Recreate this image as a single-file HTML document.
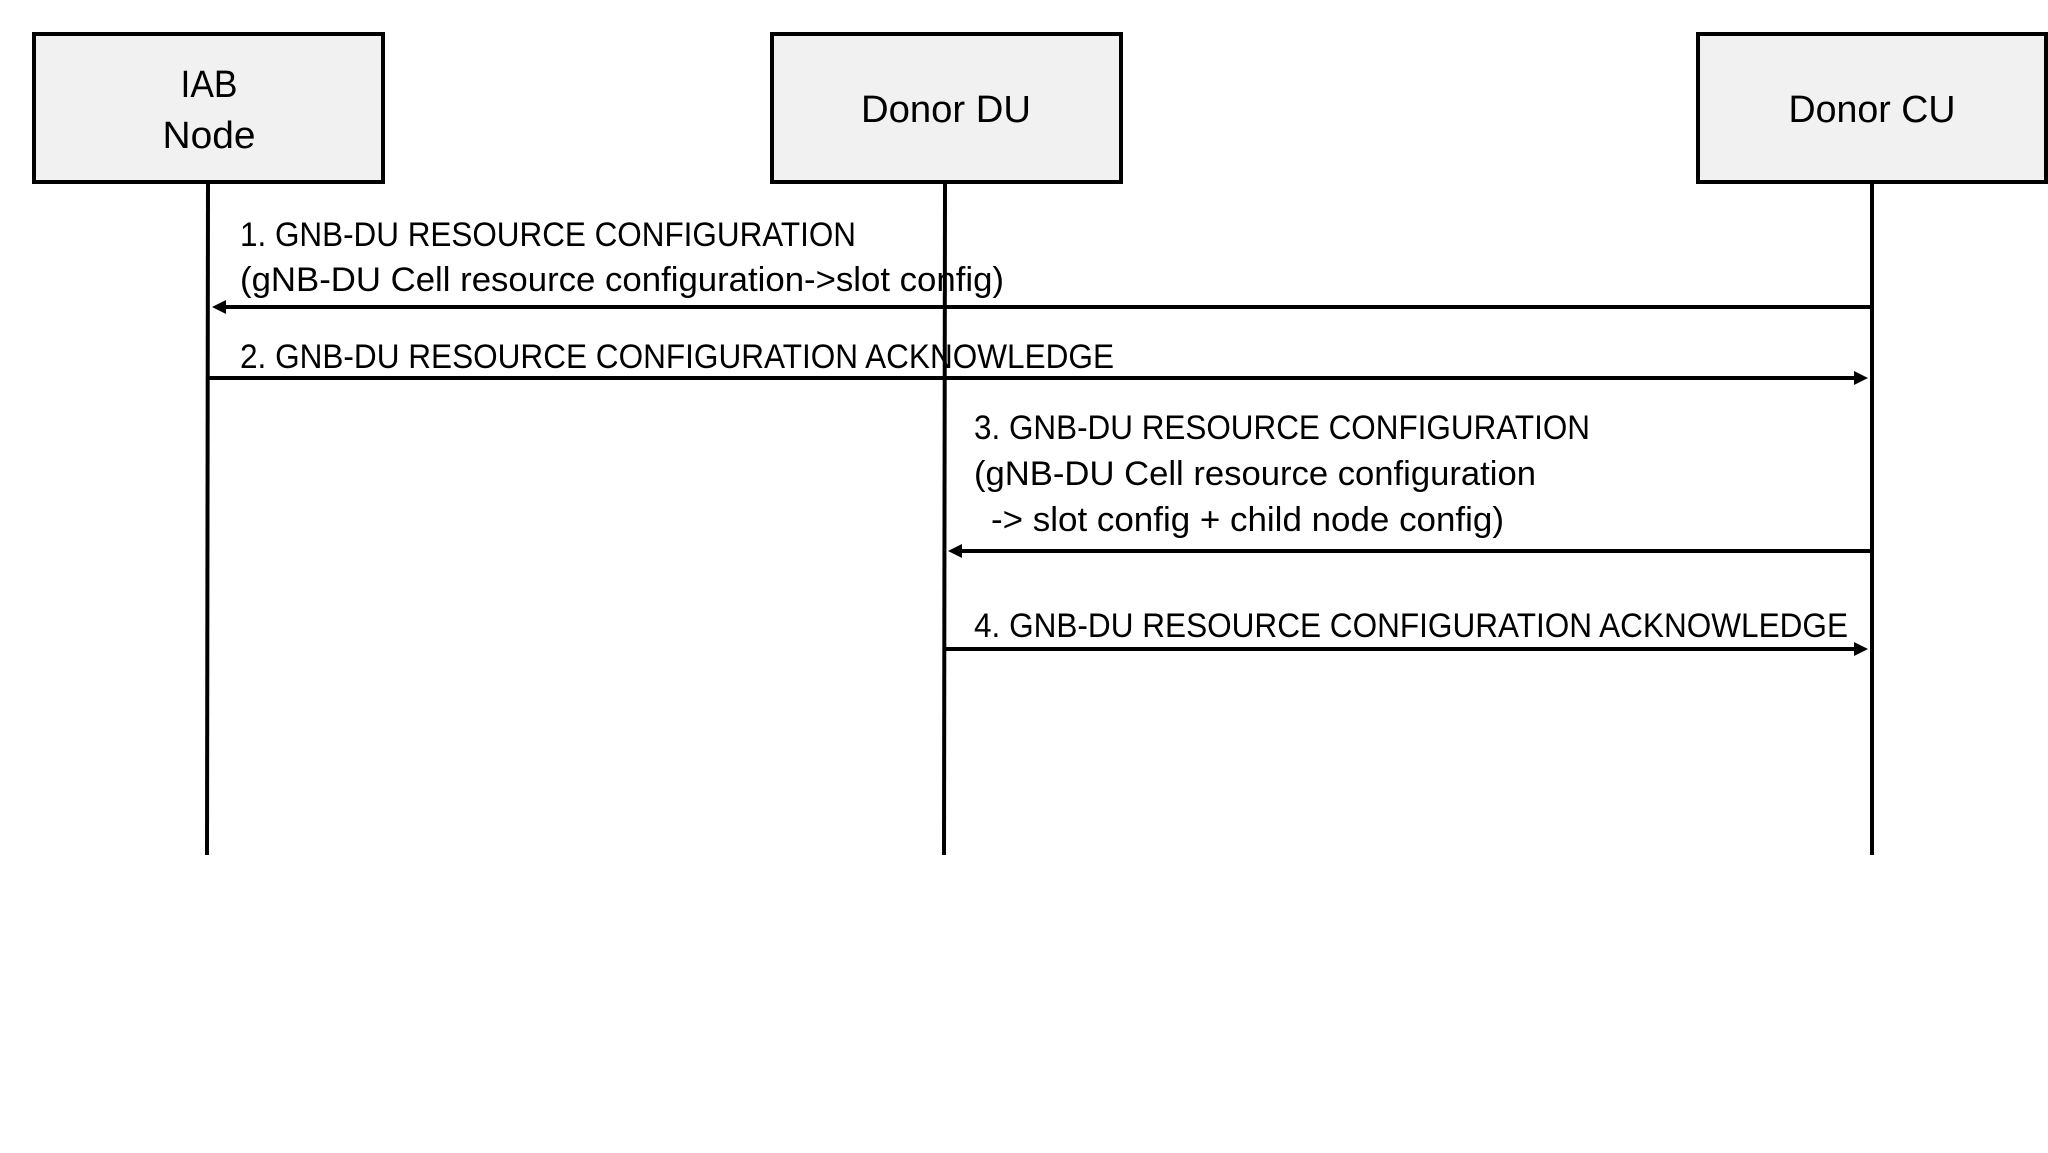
<!DOCTYPE html>
<html><head><meta charset="utf-8"><style>html,body{margin:0;padding:0;background:#fff}svg{display:block}</style></head>
<body>
<svg width="2048" height="1153" viewBox="0 0 2048 1153" xmlns="http://www.w3.org/2000/svg" font-family="'Liberation Sans', sans-serif" fill="#000">
<g stroke="#000" stroke-width="4" fill="#f1f1f1">
<rect x="34" y="34" width="349" height="148"/>
<rect x="772" y="34" width="349" height="148"/>
<rect x="1698" y="34" width="348" height="148"/>
</g>
<g stroke="#000" stroke-width="4">
<line x1="208" y1="182" x2="207" y2="855"/>
<line x1="945" y1="182" x2="944" y2="855"/>
<line x1="1872" y1="182" x2="1872" y2="855"/>
<line x1="1870" y1="307" x2="222" y2="307"/>
<line x1="208" y1="378" x2="1856" y2="378"/>
<line x1="1870" y1="551" x2="958" y2="551"/>
<line x1="944" y1="649" x2="1856" y2="649"/>
</g>
<polygon points="212,307 226,300 226,314"/>
<polygon points="1868,378 1854,371 1854,385"/>
<polygon points="948,551 962,544 962,558"/>
<polygon points="1868,649 1854,642 1854,656"/>
<g font-size="38">
<text x="209" y="97" text-anchor="middle" textLength="57" lengthAdjust="spacingAndGlyphs">IAB</text>
<text x="209" y="148" text-anchor="middle" textLength="93" lengthAdjust="spacingAndGlyphs">Node</text>
<text x="946" y="122" text-anchor="middle" textLength="170" lengthAdjust="spacingAndGlyphs">Donor DU</text>
<text x="1872" y="122" text-anchor="middle" textLength="167" lengthAdjust="spacingAndGlyphs">Donor CU</text>
</g>
<g font-size="34">
<text x="240" y="246" textLength="616" lengthAdjust="spacingAndGlyphs">1. GNB-DU RESOURCE CONFIGURATION</text>
<text x="240" y="291" textLength="764" lengthAdjust="spacingAndGlyphs">(gNB-DU Cell resource configuration-&gt;slot config)</text>
<text x="240" y="368" textLength="874" lengthAdjust="spacingAndGlyphs">2. GNB-DU RESOURCE CONFIGURATION ACKNOWLEDGE</text>
<text x="974" y="439" textLength="616" lengthAdjust="spacingAndGlyphs">3. GNB-DU RESOURCE CONFIGURATION</text>
<text x="974" y="485" textLength="562" lengthAdjust="spacingAndGlyphs">(gNB-DU Cell resource configuration</text>
<text x="991" y="531" textLength="513" lengthAdjust="spacingAndGlyphs">-&gt; slot config + child node config)</text>
<text x="974" y="637" textLength="874" lengthAdjust="spacingAndGlyphs">4. GNB-DU RESOURCE CONFIGURATION ACKNOWLEDGE</text>
</g>
</svg>
</body></html>
